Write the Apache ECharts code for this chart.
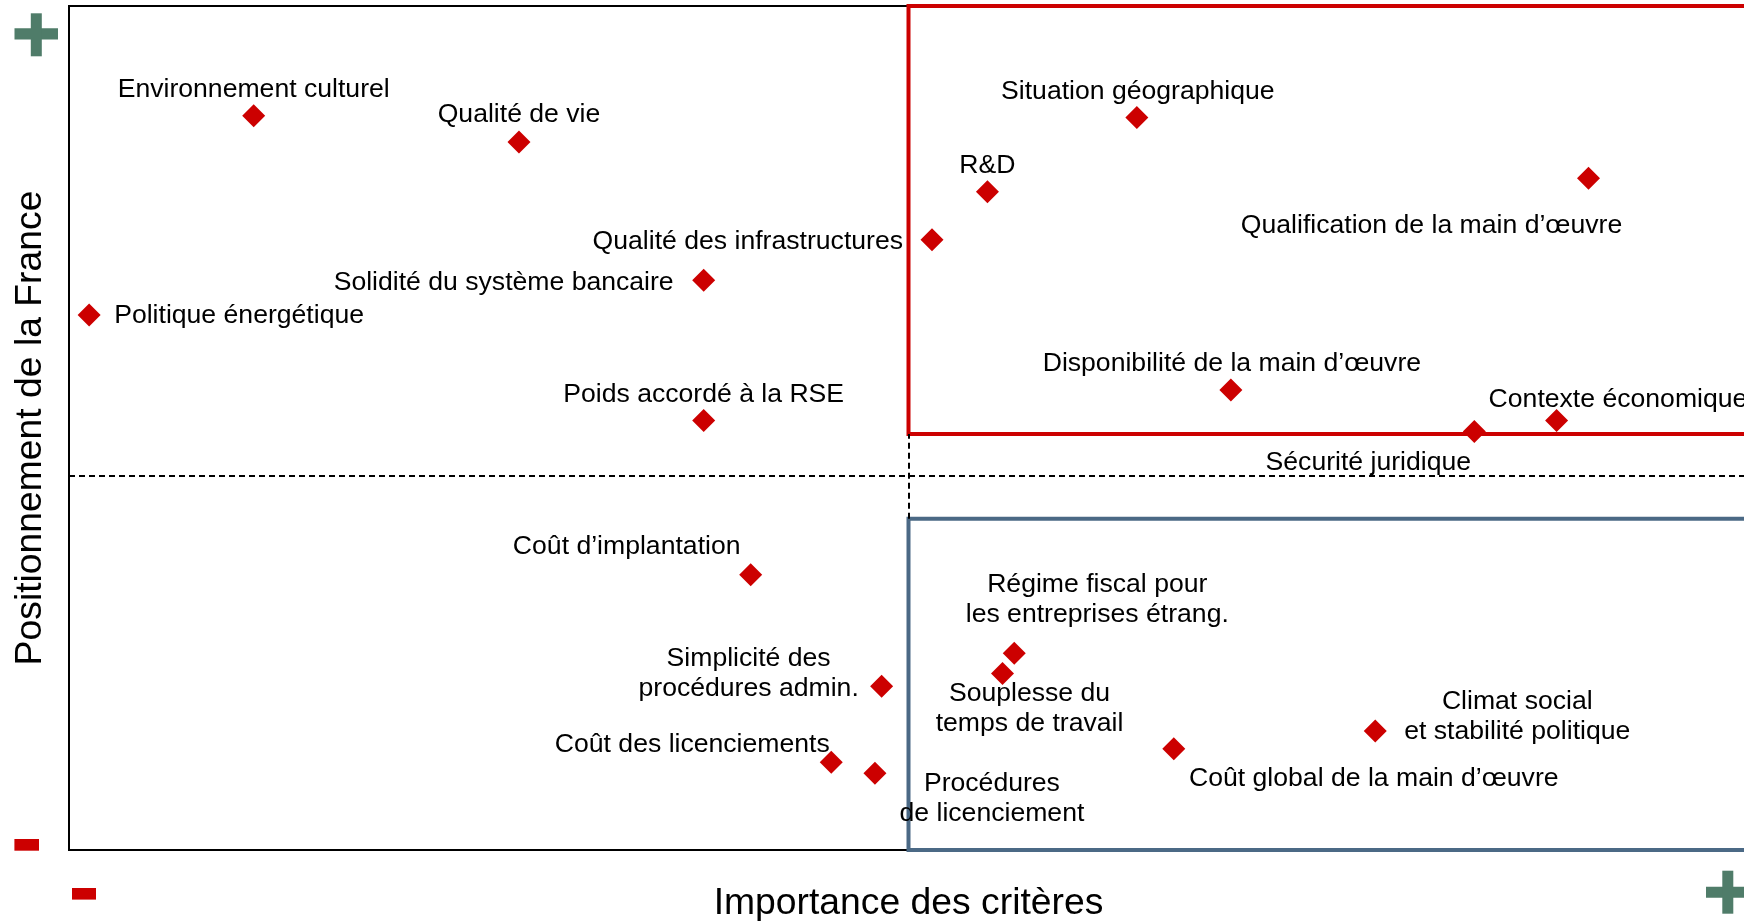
<!DOCTYPE html>
<html>
<head>
<meta charset="utf-8">
<script src="https://cdn.jsdelivr.net/npm/echarts@6/dist/echarts.min.js"></script>
<style>
  html, body { margin: 0; padding: 0; background: #fff; }
  #chart { width: 1744px; height: 921px; }
</style>
</head>
<body>
<div id="chart"></div>
<script>
// critères (importance en x, positionnement de la France en y, échelle 0-100)
var criteria = [
  "Environnement culturel",
  "Qualité de vie",
  "Qualité des infrastructures",
  "Solidité du système bancaire",
  "Politique énergétique",
  "Poids accordé à la RSE",
  "Situation géographique",
  "R&D",
  "Qualification de la main d’œuvre",
  "Disponibilité de la main d’œuvre",
  "Sécurité juridique",
  "Contexte économique",
  "Coût d’implantation",
  "Simplicité des\nprocédures admin.",
  "Coût des licenciements",
  "Procédures\nde licenciement",
  "Régime fiscal pour\nles entreprises étrang.",
  "Souplesse du\ntemps de travail",
  "Coût global de la main d’œuvre",
  "Climat social\net stabilité politique"
];
var importance = [11.0, 26.8, 51.4, 37.8, 1.2, 37.8, 63.6, 54.7, 90.5, 69.2,
                  83.7, 88.6, 40.6, 48.4, 45.4, 48.0, 56.3, 55.6, 65.8, 77.8];
var positionnement = [87.0, 83.9, 72.3, 67.5, 63.4, 50.9, 86.8, 78.0, 79.6, 54.5,
                      49.6, 50.9, 32.6, 19.4, 10.4, 9.1, 23.3, 20.9, 12.0, 14.1];

// seuils des quadrants
var midX = 50;
var midY = 44.4;
var strongTop = 49.3;   // bas du cadre rouge
var weakTop = 39.25;    // haut du cadre bleu

// placement des étiquettes (décalage en px, alignement)
var labelOffsets = [
  [0, -26], [0, -27], [-29, 2], [-30, 2], [25, 1], [0, -26], [1, -26], [0, -26],
  [-157, 47], [1, -26], [-106, 31], [-68, -21], [-124, -28], [-133, -13],
  [-139, -18], [117, 25], [83, -54], [27, 35], [200, 30], [142, -14]
];
var labelAligns = [
  "center", "center", "right", "right", "left", "center", "center", "center",
  "center", "center", "center", "left", "center", "center",
  "center", "center", "center", "center", "center", "center"
];

var FONT = "'Liberation Sans', Arial, sans-serif";
var RED = "#cc0000";
var GREEN = "#4f7c69";
var BLUE = "#4b6985";

var points = criteria.map(function (name, i) {
  return {
    name: name,
    value: [importance[i], positionnement[i]],
    label: { offset: labelOffsets[i], align: labelAligns[i] }
  };
});

var chart = echarts.init(document.getElementById("chart"));
var option = {
  animation: false,
  backgroundColor: "#fff",
  grid: {
    left: 69,
    right: -4,
    top: 6,
    bottom: 71,
    outerBoundsMode: "none",
    show: true,
    borderColor: "#000",
    borderWidth: 2,
    backgroundColor: "transparent"
  },
  xAxis: {
    type: "value",
    min: 0,
    max: 100,
    name: "Importance des critères",
    nameLocation: "middle",
    nameGap: 35,
    nameTextStyle: { fontSize: 37.3, color: "#000", fontFamily: FONT },
    axisLine: { show: false },
    axisTick: { show: false },
    axisLabel: { show: false },
    splitLine: { show: false }
  },
  yAxis: {
    type: "value",
    min: 0,
    max: 100,
    name: "Positionnement de la France",
    nameLocation: "middle",
    nameGap: 20,
    nameTextStyle: { fontSize: 37.3, color: "#000", fontFamily: FONT },
    axisLine: { show: false },
    axisTick: { show: false },
    axisLabel: { show: false },
    splitLine: { show: false }
  },
  series: [
    {
      type: "scatter",
      symbol: "diamond",
      symbolSize: 23,
      itemStyle: { color: RED, opacity: 1 },
      label: {
        show: true,
        position: "inside",
        verticalAlign: "middle",
        formatter: "{b}",
        color: "#000",
        fontSize: 26.6,
        lineHeight: 30,
        fontFamily: FONT
      },
      markLine: {
        silent: true,
        symbol: ["none", "none"],
        label: { show: false },
        lineStyle: { color: "#000", width: 2, type: [6, 4], opacity: 1 },
        data: [
          { yAxis: midY },
          [{ coord: [midX, weakTop] }, { coord: [midX, strongTop] }]
        ]
      },
      markArea: {
        silent: true,
        label: { show: false },
        data: [
          [
            { xAxis: midX, yAxis: strongTop, itemStyle: { color: "transparent", borderColor: RED, borderWidth: 4, opacity: 1 } },
            { xAxis: 100, yAxis: 100 }
          ],
          [
            { xAxis: midX, yAxis: 0, itemStyle: { color: "transparent", borderColor: BLUE, borderWidth: 4, opacity: 1 } },
            { xAxis: 100, yAxis: weakTop }
          ]
        ]
      },
      data: points
    }
  ],
  graphic: [
    // + en haut à gauche
    { type: "rect", shape: { x: 14.5, y: 28.3, width: 43.5, height: 11.3 }, style: { fill: GREEN } },
    { type: "rect", shape: { x: 30.8, y: 13.3, width: 11, height: 43 }, style: { fill: GREEN } },
    // - en bas à gauche
    { type: "rect", shape: { x: 14.4, y: 839, width: 24.6, height: 11.7 }, style: { fill: RED } },
    { type: "rect", shape: { x: 72, y: 888, width: 24, height: 11.6 }, style: { fill: RED } },
    // + en bas à droite
    { type: "rect", shape: { x: 1706, y: 886.7, width: 43.5, height: 11 }, style: { fill: GREEN } },
    { type: "rect", shape: { x: 1722.3, y: 870.7, width: 11, height: 43 }, style: { fill: GREEN } }
  ]
};
chart.setOption(option);
</script>
</body>
</html>
